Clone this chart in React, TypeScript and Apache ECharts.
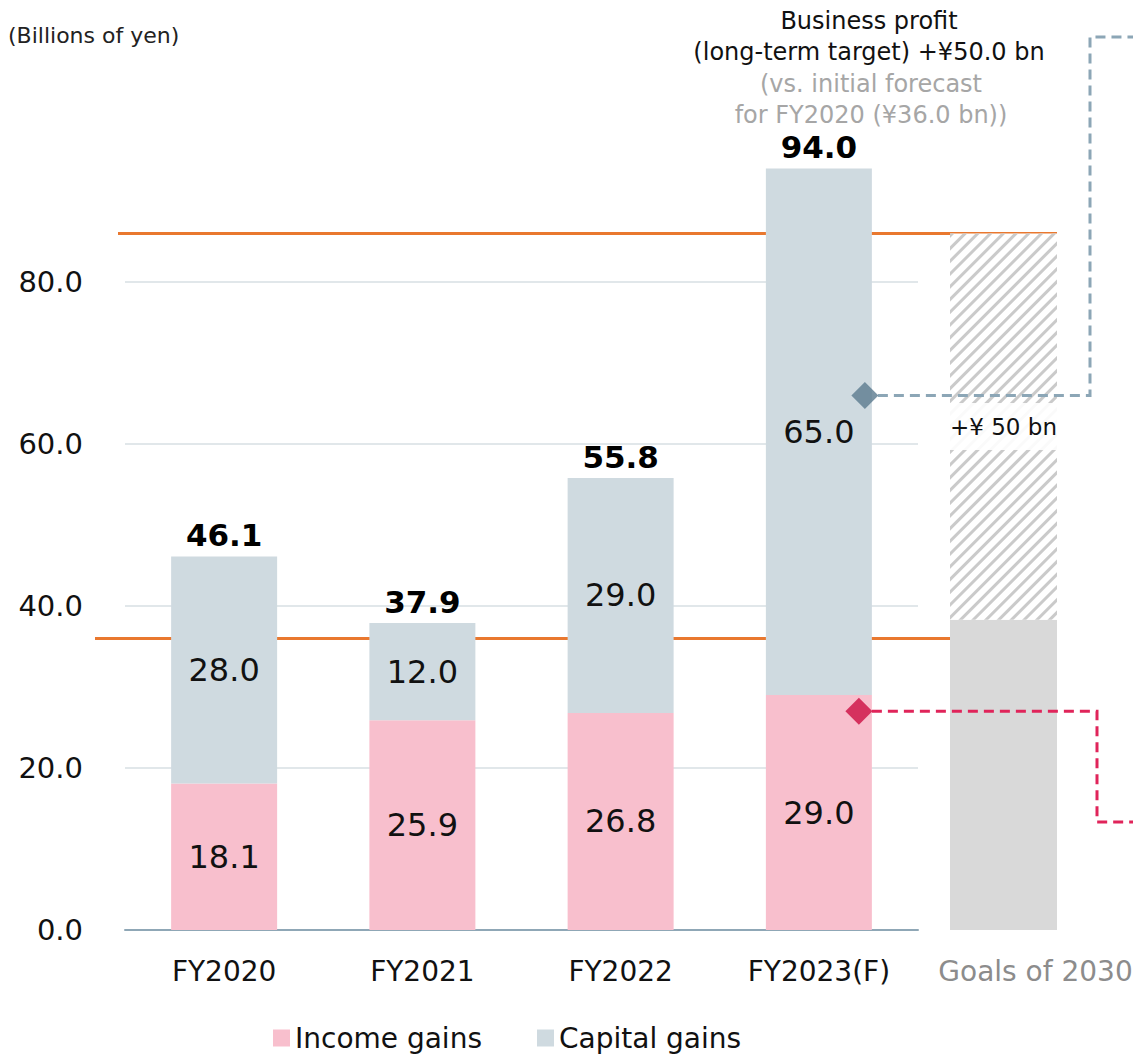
import React, { useEffect, useRef } from "react";
import * as echarts from "echarts";

// ---- data ----
const categories = ["FY2020", "FY2021", "FY2022", "FY2023(F)"];
const incomeGains = [18.1, 25.9, 26.8, 29.0];
const capitalGains = [28.0, 12.0, 29.0, 65.0];
const goalCategory = ["Goals of 2030"];
const goalBase = [38.3];
const goalIncrease = [47.7];
const goalLabel = "+¥ 50 bn";
const initialForecastLine = 36.0;
const longTermTargetLine = 86.0;
const businessProfitMarker = [[3, 66.0]];
const incomeMarker = [[3, 27.0]];
const unitLabel = "(Billions of yen)";
const noteLines = ["Business profit", "(long-term target) +¥50.0 bn"];
const noteGrayLines = ["(vs. initial forecast", "for FY2020 (¥36.0 bn))"];

const FONT = '"DejaVu Sans", Verdana, sans-serif';
const totals = incomeGains.map((v, i) => +(v + capitalGains[i]).toFixed(1));

export default function App() {
  const ref = useRef<HTMLDivElement>(null);
  useEffect(() => {
    if (!ref.current) return;
    const chart = echarts.init(ref.current, undefined, { renderer: "svg" });
    const gridTop = 120;
    const gridBottom = 126;
    const option: any = {
      animation: false,
      backgroundColor: "#ffffff",
      textStyle: { fontFamily: FONT },
      grid: [
        { left: 125, width: 793, top: gridTop, bottom: gridBottom, outerBoundsMode: "none", containLabel: false },
        { left: 950, width: 107, top: gridTop, bottom: gridBottom, outerBoundsMode: "none", containLabel: false },
      ],
      legend: {
        data: ["Income gains", "Capital gains"],
        left: 268,
        top: 1019,
        icon: "rect",
        itemWidth: 17,
        itemHeight: 17,
        itemGap: 55,
        textStyle: { fontSize: 28, color: "#111", fontFamily: FONT },
      },
      xAxis: [
        {
          type: "category",
          gridIndex: 0,
          data: categories,
          axisLine: { lineStyle: { color: "#8FA7B6", width: 2 } },
          axisTick: { show: false },
          axisLabel: { fontSize: 28, color: "#111", margin: 27, fontFamily: FONT },
        },
        {
          type: "category",
          gridIndex: 1,
          data: goalCategory,
          axisLine: { show: false },
          axisTick: { show: false },
          axisLabel: { fontSize: 28, color: "#8C8C8C", margin: 27, padding: [0, 0, 0, 64], fontFamily: FONT },
        },
      ],
      yAxis: [
        {
          type: "value",
          gridIndex: 0,
          min: 0,
          max: 100,
          interval: 20,
          axisLine: { show: false },
          axisTick: { show: false },
          axisLabel: {
            fontSize: 29,
            color: "#111",
            margin: 42,
            showMaxLabel: false,
            fontFamily: FONT,
            formatter: (v: number) => (v > 80 ? "" : v.toFixed(1)),
          },
          splitLine: { showMaxLine: false, lineStyle: { color: "#E1E7EA", width: 2 } },
        },
        {
          type: "value",
          gridIndex: 1,
          min: 0,
          max: 100,
          interval: 20,
          show: false,
          splitLine: { show: false },
        },
      ],
      series: [
        {
          name: "Income gains",
          type: "bar",
          stack: "a",
          barWidth: 106,
          data: incomeGains,
          itemStyle: { color: "#F8BFCD" },
          z: 3,
          label: { show: true, position: "inside", fontSize: 32, color: "#111", formatter: (p: any) => p.value.toFixed(1) },
        },
        {
          name: "Capital gains",
          type: "bar",
          stack: "a",
          barWidth: 106,
          data: capitalGains,
          itemStyle: { color: "#CFDAE0" },
          z: 3,
          label: { show: true, position: "inside", fontSize: 32, color: "#111", formatter: (p: any) => p.value.toFixed(1) },
        },
        {
          name: "Total",
          type: "bar",
          stack: "a",
          barWidth: 106,
          data: totals.map(() => 0),
          itemStyle: { color: "transparent" },
          z: 3,
          label: {
            show: true,
            position: "top",
            distance: 6,
            fontSize: 31,
            fontWeight: "bold",
            color: "#000",
            formatter: (p: any) => totals[p.dataIndex].toFixed(1),
          },
        },
        {
          name: "Goal base",
          type: "bar",
          xAxisIndex: 1,
          yAxisIndex: 1,
          stack: "g",
          barWidth: 107,
          data: goalBase,
          itemStyle: { color: "#D9D9D9" },
          z: 3,
        },
        {
          name: "Goal increase",
          type: "bar",
          xAxisIndex: 1,
          yAxisIndex: 1,
          stack: "g",
          barWidth: 107,
          data: goalIncrease,
          z: 3,
          itemStyle: {
            color: "#FFFFFF",
            decal: {
              symbol: "rect",
              symbolSize: 1,
              dashArrayX: [1, 0],
              dashArrayY: [3, 6],
              rotation: -Math.PI / 4,
              color: "#CACACA",
            },
          },
          label: {
            show: true,
            position: "inside",
            formatter: goalLabel,
            fontSize: 23,
            color: "#111",
            backgroundColor: "rgba(255,255,255,0.9)",
            padding: [12, 4],
          },
        },
        {
          name: "Profit marker",
          type: "scatter",
          xAxisIndex: 0,
          yAxisIndex: 0,
          data: businessProfitMarker,
          symbol: "diamond",
          symbolSize: 27,
          symbolOffset: [46, 0],
          itemStyle: { color: "#5B7A8E" },
          z: 6,
        },
        {
          name: "Income marker",
          type: "scatter",
          xAxisIndex: 0,
          yAxisIndex: 0,
          data: incomeMarker,
          symbol: "diamond",
          symbolSize: 27,
          symbolOffset: [40, 0],
          itemStyle: { color: "#CC0E42" },
          z: 6,
        },
      ],
    };
    chart.setOption(option);

    const yUpper = chart.convertToPixel({ gridIndex: 0 } as any, [0, longTermTargetLine])[1];
    const yLower = chart.convertToPixel({ gridIndex: 0 } as any, [0, initialForecastLine])[1];
    const pb = chart.convertToPixel({ gridIndex: 0 } as any, businessProfitMarker[0]);
    const pi = chart.convertToPixel({ gridIndex: 0 } as any, incomeMarker[0]);

    const textEl = (text: string, x: number, y: number, fill: string, size: number, align = "center") => ({
      type: "text",
      x,
      y,
      z: 10,
      style: { text, fill, fontSize: size, fontFamily: FONT, align, verticalAlign: "middle" },
    });

    chart.setOption({
      graphic: [
        { type: "line", z: 1, shape: { x1: 118, y1: yUpper, x2: 1057, y2: yUpper }, style: { stroke: "#E9782F", lineWidth: 3 } },
        { type: "line", z: 1, shape: { x1: 95, y1: yLower, x2: 950, y2: yLower }, style: { stroke: "#E9782F", lineWidth: 3 } },
        {
          type: "polyline",
          z: 5,
          shape: { points: [[pb[0] + 46 + 13, pb[1]], [1090, pb[1]], [1090, 37], [1140, 37]] },
          style: { stroke: "#8CA6B6", lineWidth: 3, lineDash: [10, 6], fill: "none" },
        },
        {
          type: "polyline",
          z: 5,
          shape: { points: [[pi[0] + 40 + 13, pi[1]], [1097, pi[1]], [1097, 822], [1140, 822]] },
          style: { stroke: "#E0245A", lineWidth: 3, lineDash: [10, 6], fill: "none" },
        },
        textEl(unitLabel, 8, 35, "#222", 22, "left"),
        textEl(noteLines[0], 869, 21, "#111", 24),
        textEl(noteLines[1], 869, 52, "#111", 24),
        textEl(noteGrayLines[0], 871, 84, "#A6A6A6", 24),
        textEl(noteGrayLines[1], 871, 115, "#A6A6A6", 24),
      ],
    });

    return () => chart.dispose();
  }, []);
  return <div ref={ref} style={{ position: "fixed", left: 0, top: 0, width: 1133, height: 1056 }} />;
}
